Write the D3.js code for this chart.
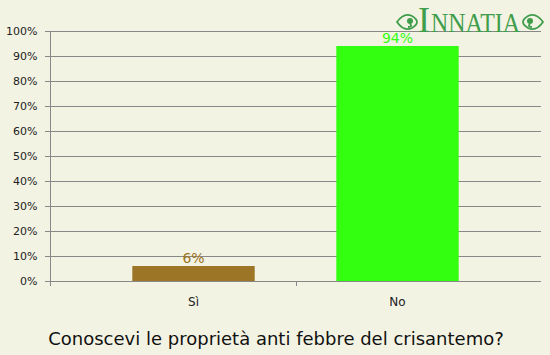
<!DOCTYPE html>
<html>
<head>
<meta charset="utf-8">
<script src="https://cdn.jsdelivr.net/npm/d3@7"></script>
<style>
  body { margin: 0; background: #f3f3e3; }
  svg { display: block; font-family: "DejaVu Sans", Verdana, sans-serif; }
</style>
</head>
<body>
<div id="chart"></div>
<script>
const categories = ["Sì", "No"];
const values = [6, 94];
const barColors = ["#9c7526", "#33ff11"];
const yTicks = [0, 10, 20, 30, 40, 50, 60, 70, 80, 90, 100];
const title = "Conoscevi le proprietà anti febbre del crisantemo?";

const W = 550, H = 355;
const plot = { left: 50, right: 541, top: 31, bottom: 281 };

const svg = d3.select("#chart").append("svg")
    .attr("width", W)
    .attr("height", H);

svg.append("rect").attr("width", W).attr("height", H).attr("fill", "#f3f3e3");

const y = d3.scaleLinear().domain([0, 100]).range([plot.bottom, plot.top]);
const x = d3.scaleBand().domain(categories)
    .range([91.5, 499.5])
    .paddingInner(0.4)
    .paddingOuter(0.2);

// gridlines
svg.append("g")
    .selectAll("line")
    .data(yTicks)
    .join("line")
    .attr("x1", plot.left - 5)
    .attr("x2", plot.right)
    .attr("y1", d => y(d) + 0.5)
    .attr("y2", d => y(d) + 0.5)
    .attr("stroke", "#888")
    .attr("stroke-width", 1);

// y axis
const yAxis = svg.append("g")
    .attr("transform", `translate(${plot.left + 0.5},0)`)
    .call(d3.axisLeft(y).tickValues(yTicks).tickSize(0).tickPadding(13).tickFormat(d => d + "%"));
yAxis.select(".domain").remove();
yAxis.selectAll("text").attr("font-size", 11).attr("fill", "#222")
    .attr("font-family", "DejaVu Sans, Verdana, sans-serif");

svg.append("line")
    .attr("x1", plot.left + 0.5).attr("x2", plot.left + 0.5)
    .attr("y1", plot.top).attr("y2", plot.bottom + 5)
    .attr("stroke", "#888");

// separator tick between categories
const sep = (x("Sì") + x.bandwidth() + x("No")) / 2;
svg.append("line")
    .attr("x1", Math.round(sep) + 0.5).attr("x2", Math.round(sep) + 0.5)
    .attr("y1", plot.bottom).attr("y2", plot.bottom + 5)
    .attr("stroke", "#888");

// bars
svg.append("g")
    .selectAll("rect")
    .data(values)
    .join("rect")
    .attr("x", (d, i) => x(categories[i]))
    .attr("width", x.bandwidth())
    .attr("y", d => y(d))
    .attr("height", d => y(0) - y(d))
    .attr("fill", (d, i) => barColors[i]);

// value labels
svg.append("g")
    .selectAll("text")
    .data(values)
    .join("text")
    .attr("x", (d, i) => x(categories[i]) + x.bandwidth() / 2)
    .attr("y", d => y(d) - 3)
    .attr("text-anchor", "middle")
    .attr("font-size", 14)
    .attr("fill", (d, i) => barColors[i])
    .text(d => d + "%");

// category labels
svg.append("g")
    .selectAll("text")
    .data(categories)
    .join("text")
    .attr("x", d => x(d) + x.bandwidth() / 2)
    .attr("y", plot.bottom + 25)
    .attr("text-anchor", "middle")
    .attr("font-size", 12)
    .attr("fill", "#222")
    .text(d => d);

// title
svg.append("text")
    .attr("x", W / 2 + 1)
    .attr("y", 345)
    .attr("text-anchor", "middle")
    .attr("font-size", 18)
    .attr("fill", "#111")
    .text(title);

// logo
const logoColor = "#3f9d4c";
const logo = svg.append("g").attr("fill", logoColor);
logo.append("text")
    .attr("x", 418).attr("y", 32)
    .attr("font-family", "Liberation Serif, DejaVu Serif, serif")
    .attr("font-size", 36)
    .text("I");
logo.append("text")
    .attr("x", 431).attr("y", 32)
    .attr("font-family", "Liberation Serif, DejaVu Serif, serif")
    .attr("font-size", 27)
    .attr("textLength", 89)
    .attr("lengthAdjust", "spacingAndGlyphs")
    .text("NNATIA");
[407, 533].forEach((cx, i) => {
  const s = i === 0 ? 1 : -1;
  const g = logo.append("g").attr("transform", `translate(${cx},22)`)
      .attr("fill", "none").attr("stroke", logoColor).attr("stroke-width", 1.8);
  g.append("path").attr("d", `M${-10 * s},0 Q${-3 * s},-10 ${5 * s},-6 Q${10 * s},-3 ${10 * s},0 Q${10 * s},3 ${5 * s},6 Q${-3 * s},10 ${-10 * s},0 Z`);
  g.append("circle").attr("cx", 3 * s).attr("cy", -1).attr("r", 3).attr("fill", logoColor).attr("stroke", "none");
  g.append("path").attr("d", `M${3 * s},2 Q${6 * s},5 ${1 * s},5`);
});
</script>
</body>
</html>
